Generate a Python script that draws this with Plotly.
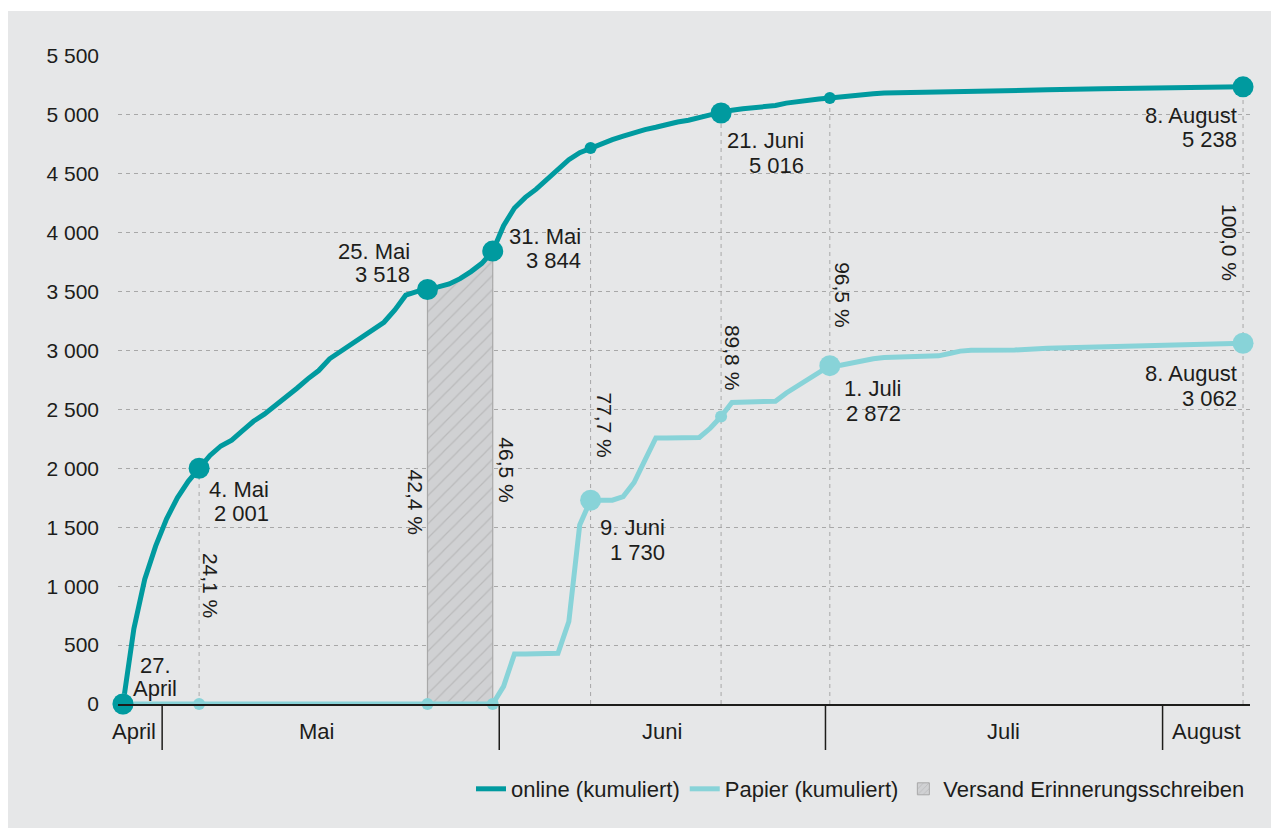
import plotly.graph_objects as go

# ---------------- data ----------------
# x = days since 27 April
online_days = list(range(0, 71)) + [72, 75, 80, 85, 90, 95, 100, 103]
online_values = [0, 640, 1060, 1340, 1570, 1750, 1890, 2001, 2110, 2190,
                 2240, 2320, 2400, 2460, 2530, 2610, 2680, 2760, 2830, 2930,
                 2990, 3060, 3110, 3170, 3240, 3345, 3470, 3500, 3518, 3540,
                 3565, 3610, 3670, 3740, 3844, 4060, 4210, 4300, 4370, 4450,
                 4540, 4620, 4680, 4720, 4760, 4790, 4820, 4850, 4875, 4895,
                 4920, 4940, 4955, 4980, 5000, 5016, 5040, 5052, 5060, 5068,
                 5080, 5100, 5115, 5125, 5135, 5144, 5155, 5165, 5172, 5180,
                 5185, 5190, 5196, 5205, 5213, 5222, 5230, 5236, 5238]

paper_days = [0, 7, 28, 34, 35, 36, 37, 38, 39, 40, 41, 42, 43, 44, 45, 46, 47,
              48, 49, 50, 51, 52, 53, 54, 55, 56, 57, 58, 59, 60, 61, 62, 63,
              64, 65, 66, 67, 68, 69, 70, 72, 74, 75, 76, 77, 78, 82, 85, 90,
              95, 100, 103]
paper_values = [0, 0, 0, 0, 150, 425, 425, 425, 425, 430, 700, 1520, 1730,
                1730, 1730, 1760, 1880, 2070, 2258, 2258, 2258, 2258, 2262,
                2340, 2440, 2560, 2560, 2560, 2560, 2570, 2640, 2700, 2760,
                2820, 2872, 2875, 2895, 2915, 2930, 2940, 2948, 2950, 2955,
                2975, 2995, 3003, 3005, 3020, 3032, 3042, 3055, 3062]

reminder_start, reminder_end = 28, 34

online_big_days = [0, 7, 28, 34, 55, 103]
online_small_days = [43, 65]
paper_big_days = [0, 43, 65, 103]
paper_small_days = [7, 28, 34, 55]
guide_days = [7, 43, 55, 65, 103]

month_names = ["April", "Mai", "Juni", "Juli", "August"]
month_label_days = [1.0, 17.75, 49.6, 81.0, 99.6]
month_boundaries = [3.6, 34.6, 64.6, 95.6]

y_ticks = [0, 500, 1000, 1500, 2000, 2500, 3000, 3500, 4000, 4500, 5000, 5500]
y_ticktext = ["0", "500", "1 000", "1 500", "2 000", "2 500", "3 000",
              "3 500", "4 000", "4 500", "5 000", "5 500"]

# date labels: (day, series, line1, line2)
date_labels = [
    (0, "online", "27.", "April"),
    (7, "online", "4. Mai", "2 001"),
    (28, "online", "25. Mai", "3 518"),
    (34, "online", "31. Mai", "3 844"),
    (55, "online", "21. Juni", "5 016"),
    (103, "online", "8. August", "5 238"),
    (43, "paper", "9. Juni", "1 730"),
    (65, "paper", "1. Juli", "2 872"),
    (103, "paper", "8. August", "3 062"),
]
pct_labels = [(7, "24,1 %"), (28, "42,4 %"), (34, "46,5 %"), (43, "77,7 %"),
              (55, "89,8 %"), (65, "96,5 %"), (103, "100,0 %")]

# ---------------- styling ----------------
OFF = 8                      # page body margin (screen px -> figure px)
W, H = 1279 - OFF, 828 - OFF
ML, MR, MT = 110, 29, 48
PH = 648
MB = H - MT - PH
PW = W - ML - MR
BASE = MT + PH              # figure px of y = 0
TEAL = "#009a9f"
CYAN = "#88d3d8"
BG = "#e6e7e8"
TXT = "#1d1d1b"
GRID = "#a8a8a8"
FONT = "Liberation Sans, Arial, Helvetica, sans-serif"


def py_to_paper(screen_y):
    return (BASE - (screen_y - OFF)) / PH


# label placement offsets (px): anchor, xshift, yshift line1, yshift line2
label_pos = {
    (0, "online"): ("center", 32, 39, 16),
    (7, "online"): ("right", 72, -21, -45),
    (28, "online"): ("right", -15, 38, 15),
    (34, "online"): ("right", 90, 15, -9),
    (55, "online"): ("right", 85, -27, -52),
    (103, "online"): ("right", -4, -29, -53),
    (43, "paper"): ("right", 76, -27, -52),
    (65, "paper"): ("right", 73, -23, -48),
    (103, "paper"): ("right", -4, -30, -55),
}
pct_pos = {7: (12, 585), 28: (-12, 502), 34: (13, 470), 43: (14, 425),
           55: (11, 357), 65: (13, 295), 103: (-13, 242)}

online_map = dict(zip(online_days, online_values))
paper_map = dict(zip(paper_days, paper_values))
series_map = {"online": online_map, "paper": paper_map}

fig = go.Figure()

# vertical guide lines
gx, gy = [], []
for d in guide_days:
    gx += [d, d, None]
    gy += [0, online_map[d], None]
fig.add_trace(go.Scatter(x=gx, y=gy, mode="lines", showlegend=False,
                         line=dict(color=GRID, width=1, dash="4px,4px"),
                         hoverinfo="skip"))

# hatched reminder area
inside = [d for d in online_days if reminder_start <= d <= reminder_end]
hx = [reminder_start] + inside + [reminder_end]
hy = [0] + [online_map[d] for d in inside] + [0]
fig.add_trace(go.Scatter(x=hx, y=hy, mode="lines", fill="toself",
                         fillcolor="#d0d1d3",
                         fillpattern=dict(shape="/", fgcolor="#a3a3a3",
                                          bgcolor="#d0d1d3", size=10, solidity=0.12),
                         line=dict(color="#a8a8a8", width=1.2),
                         showlegend=False, hoverinfo="skip"))

# series lines
fig.add_trace(go.Scatter(x=online_days, y=online_values, mode="lines",
                         name="online (kumuliert)",
                         line=dict(color=TEAL, width=5), cliponaxis=False))
fig.add_trace(go.Scatter(x=paper_days, y=paper_values, mode="lines",
                         name="Papier (kumuliert)",
                         line=dict(color=CYAN, width=5), cliponaxis=False))
# legend entry for hatched area
fig.add_trace(go.Bar(x=[None], y=[None], name="Versand Erinnerungsschreiben",
                     marker=dict(color="#d0d1d3", line=dict(color="#a8a8a8", width=1),
                                 pattern=dict(shape="/", fgcolor="#a3a3a3",
                                              bgcolor="#d0d1d3", size=5, solidity=0.2))))

# markers
fig.add_trace(go.Scatter(x=paper_small_days, y=[paper_map[d] for d in paper_small_days],
                         mode="markers", marker=dict(color=CYAN, size=12),
                         showlegend=False, cliponaxis=False))
fig.add_trace(go.Scatter(x=paper_big_days, y=[paper_map[d] for d in paper_big_days],
                         mode="markers", marker=dict(color=CYAN, size=21),
                         showlegend=False, cliponaxis=False))
fig.add_trace(go.Scatter(x=online_small_days, y=[online_map[d] for d in online_small_days],
                         mode="markers", marker=dict(color=TEAL, size=12),
                         showlegend=False, cliponaxis=False))
fig.add_trace(go.Scatter(x=online_big_days, y=[online_map[d] for d in online_big_days],
                         mode="markers", marker=dict(color=TEAL, size=21),
                         showlegend=False, cliponaxis=False))

annotations = []
for d, s, l1, l2 in date_labels:
    anc, xs, ys1, ys2 = label_pos[(d, s)]
    v = series_map[s][d]
    for txt, ys in ((l1, ys1), (l2, ys2)):
        annotations.append(dict(x=d, y=v, xref="x", yref="y", text=txt,
                                showarrow=False, xanchor=anc, yanchor="middle",
                                xshift=xs, yshift=ys, align=anc,
                                font=dict(size=22, color=TXT, family=FONT)))
for d, txt in pct_labels:
    xs, py = pct_pos[d]
    annotations.append(dict(x=d, y=py_to_paper(py), xref="x", yref="paper",
                            text=txt, showarrow=False, textangle=90,
                            xanchor="center", yanchor="middle", xshift=xs,
                            font=dict(size=21, color=TXT, family=FONT)))
for d, name in zip(month_label_days, month_names):
    annotations.append(dict(x=d, y=py_to_paper(731), xref="x", yref="paper",
                            text=name, showarrow=False, xanchor="center",
                            yanchor="middle",
                            font=dict(size=22, color=TXT, family=FONT)))

shapes = [dict(type="rect", xref="paper", yref="paper",
               x0=-1, x1=2, y0=py_to_paper(11), y1=py_to_paper(-20),
               fillcolor="white", line=dict(width=0), layer="below")]
for b in month_boundaries:
    shapes.append(dict(type="line", xref="x", yref="paper", x0=b, x1=b,
                       y0=0, y1=py_to_paper(750),
                       line=dict(color=TXT, width=1.5)))

fig.update_layout(
    width=W, height=H,
    margin=dict(l=ML, r=MR, t=MT, b=MB, autoexpand=False),
    paper_bgcolor=BG, plot_bgcolor="rgba(0,0,0,0)",
    font=dict(family=FONT, size=21, color=TXT),
    showlegend=True,
    legend=dict(orientation="h", xanchor="right", x=1.0,
                yanchor="middle", y=py_to_paper(789),
                bgcolor="rgba(0,0,0,0)", font=dict(size=22, color=TXT, family=FONT)),
    xaxis=dict(range=[-0.46, 103.64], showgrid=False, zeroline=False,
               showticklabels=False, ticks="", showline=True,
               linecolor=TXT, linewidth=1.5, fixedrange=True),
    yaxis=dict(range=[0, 5500], tickvals=y_ticks, ticktext=y_ticktext,
               showgrid=True, gridcolor=GRID, griddash="4px,4px", gridwidth=1,
               zeroline=False, showline=False, ticks="",
               ticklabelstandoff=18, tickfont=dict(size=21, color=TXT, family=FONT)),
    annotations=annotations,
    shapes=shapes,
    hovermode=False,
)

fig.write_html("out.html")
